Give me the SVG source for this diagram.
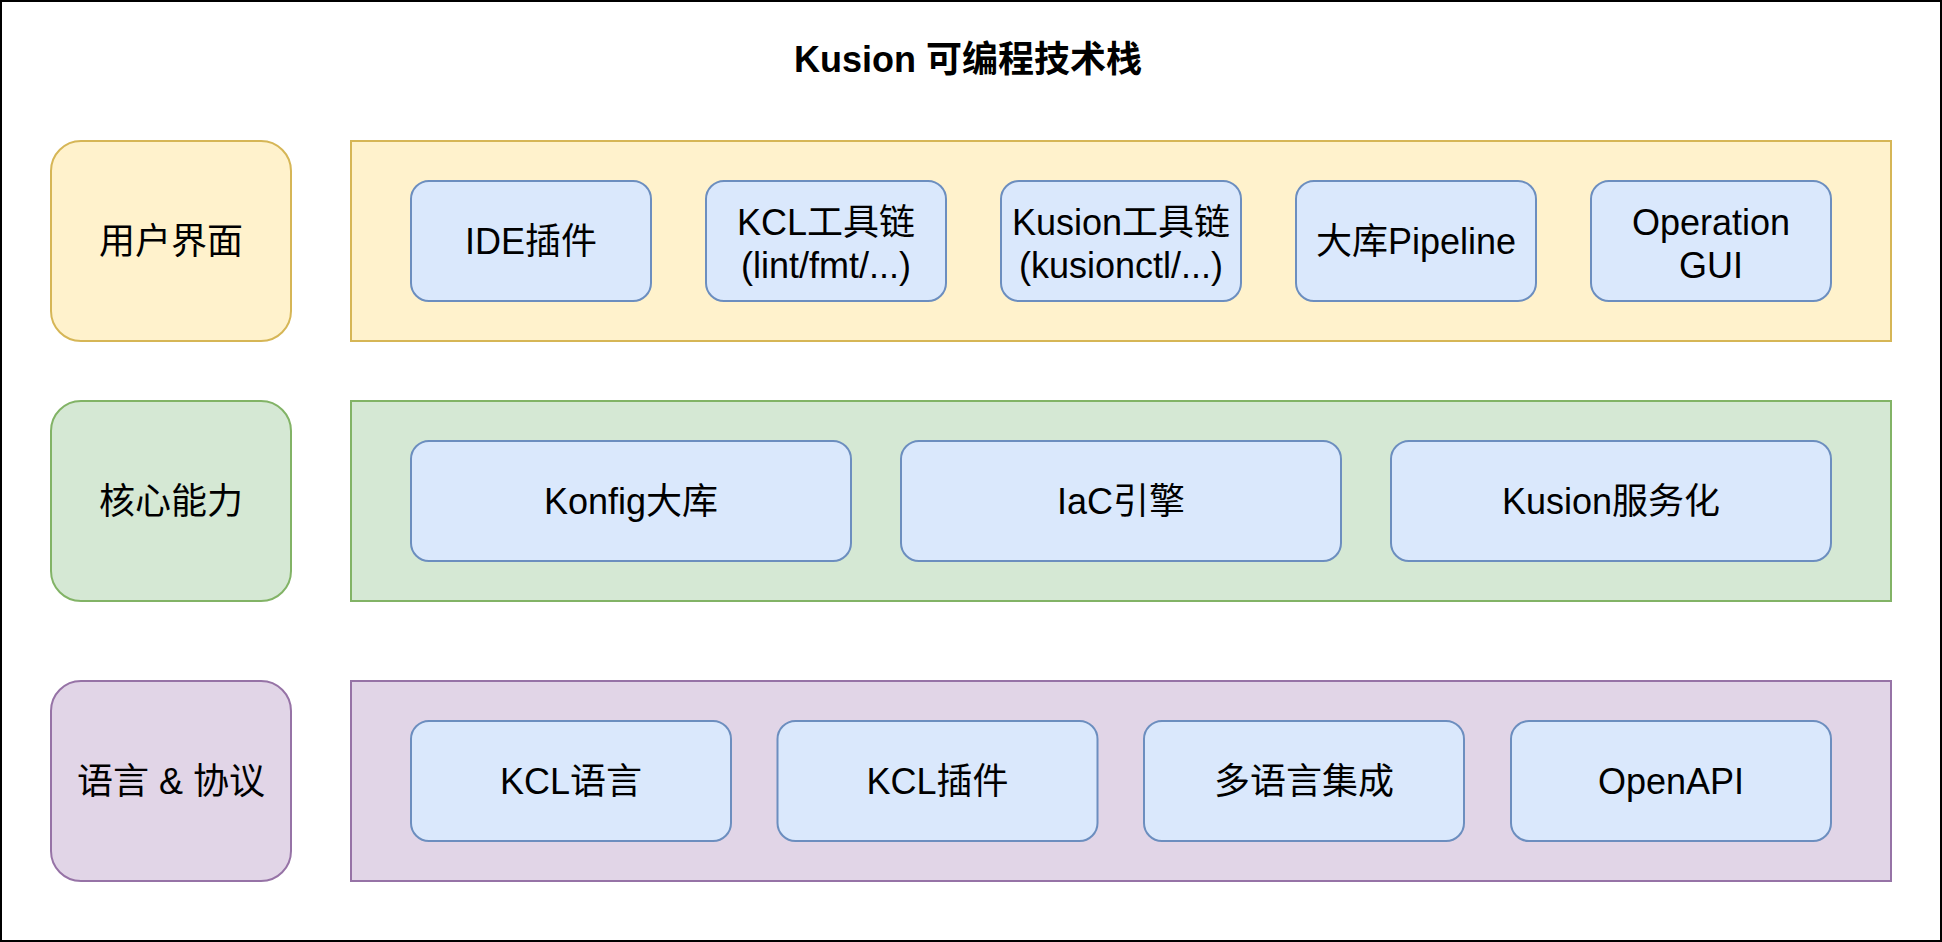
<svg xmlns="http://www.w3.org/2000/svg" width="1942" height="942" viewBox="0 0 1942 942">
<style>
text{font-family:"Liberation Sans","Noto Sans CJK SC",sans-serif;font-size:36px;fill:#000;text-anchor:middle}
.title{font-weight:bold}
.lbl{stroke-width:2}
.y{fill:#fff2cc;stroke:#d6b656}
.g{fill:#d5e8d4;stroke:#82b366}
.p{fill:#e1d5e7;stroke:#9673a6}
.b{fill:#dae8fc;stroke:#6c8ebf;stroke-width:2}
.panel{stroke-width:2}
</style>
<rect x="1" y="1" width="1940" height="940" fill="#fff" stroke="#000" stroke-width="2"/>
<text class="title" x="968" y="72">Kusion 可编程技术栈</text>
<g id="connectors"></g>
<g id="layer-ui">
<rect class="y lbl" x="51" y="141" width="240" height="200" rx="30"/>
<text x="171" y="254">用户界面</text>
</g>
<g id="panel-ui"><rect class="y panel" x="351" y="141" width="1540" height="200"/></g>
<g id="ide"><rect class="b" x="411" y="181" width="240" height="120" rx="18"/><text x="531" y="254">IDE插件</text></g>
<g id="kcl-tools"><rect class="b" x="706" y="181" width="240" height="120" rx="18"/><text x="826" y="235">KCL工具链</text><text x="826" y="278">(lint/fmt/...)</text></g>
<g id="kusion-tools"><rect class="b" x="1001" y="181" width="240" height="120" rx="18"/><text x="1121" y="235">Kusion工具链</text><text x="1121" y="278">(kusionctl/...)</text></g>
<g id="pipeline"><rect class="b" x="1296" y="181" width="240" height="120" rx="18"/><text x="1416" y="254">大库Pipeline</text></g>
<g id="gui"><rect class="b" x="1591" y="181" width="240" height="120" rx="18"/><text x="1711" y="235">Operation</text><text x="1711" y="278">GUI</text></g>
<g id="layer-core">
<rect class="g lbl" x="51" y="401" width="240" height="200" rx="30"/>
<text x="171" y="514">核心能力</text>
</g>
<g id="panel-core"><rect class="g panel" x="351" y="401" width="1540" height="200"/></g>
<g id="konfig"><rect class="b" x="411" y="441" width="440" height="120" rx="18"/><text x="631" y="514">Konfig大库</text></g>
<g id="iac"><rect class="b" x="901" y="441" width="440" height="120" rx="18"/><text x="1121" y="514">IaC引擎</text></g>
<g id="service"><rect class="b" x="1391" y="441" width="440" height="120" rx="18"/><text x="1611" y="514">Kusion服务化</text></g>
<g id="layer-lang">
<rect class="p lbl" x="51" y="681" width="240" height="200" rx="30"/>
<text x="171" y="794">语言 &amp; 协议</text>
</g>
<g id="panel-lang"><rect class="p panel" x="351" y="681" width="1540" height="200"/></g>
<g id="kcl-lang"><rect class="b" x="411" y="721" width="320" height="120" rx="18"/><text x="571" y="794">KCL语言</text></g>
<g id="kcl-plugin"><rect class="b" x="777.5" y="721" width="320" height="120" rx="18"/><text x="937.5" y="794">KCL插件</text></g>
<g id="multi-lang"><rect class="b" x="1144" y="721" width="320" height="120" rx="18"/><text x="1304" y="794">多语言集成</text></g>
<g id="openapi"><rect class="b" x="1511" y="721" width="320" height="120" rx="18"/><text x="1671" y="794">OpenAPI</text></g>
</svg>
